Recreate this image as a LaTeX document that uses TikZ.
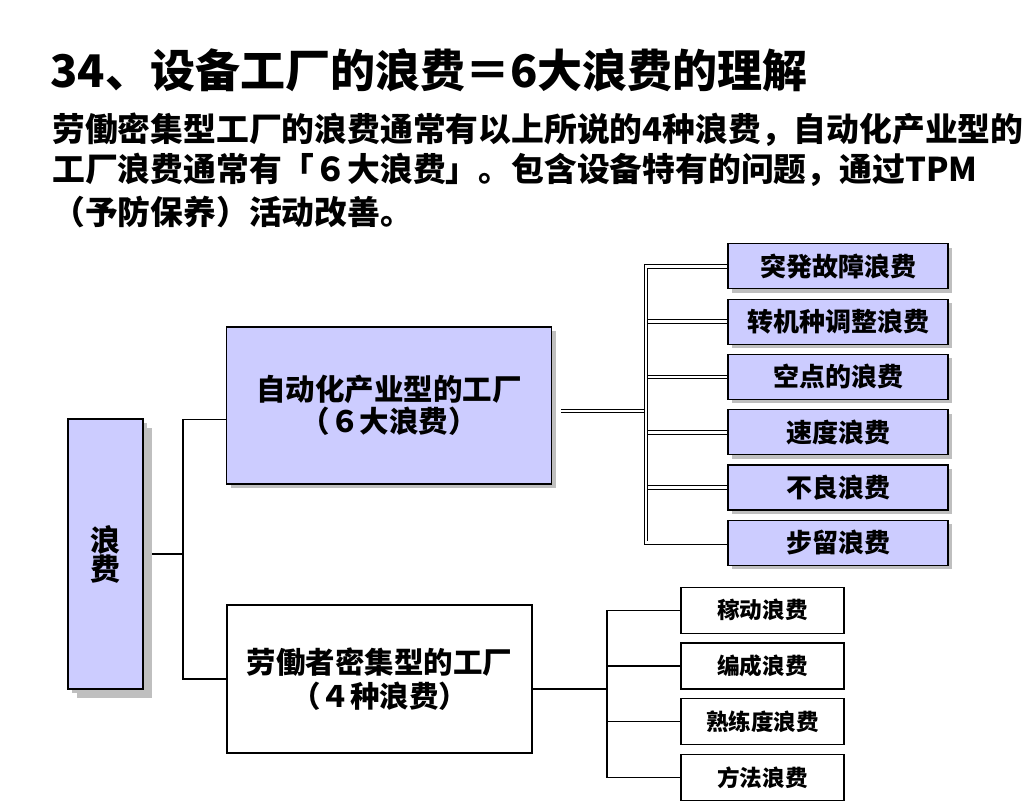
\documentclass[tikz,border=0pt]{standalone}
\usepackage{fontspec}
\setmainfont{Noto Sans CJK SC}
\usepackage{tikz}
\usetikzlibrary{shadows,backgrounds}
\definecolor{lavender}{RGB}{204,204,255}
\tikzset{
  txt/.style={anchor=west,inner sep=0pt,font=\bfseries\fontsize{16.4}{20}\selectfont},
  shade box/.style={draw,fill=lavender,line width=0.6pt,inner sep=0pt,align=center,
    drop shadow={shadow xshift=2pt,shadow yshift=-2pt,fill=black!25,opacity=1}},
  rootbox/.style={shade box,minimum width=37.5pt,minimum height=135pt,
    font=\bfseries\fontsize{15}{14.5}\selectfont,
    drop shadow={shadow xshift=4.5pt,shadow yshift=-4.5pt,fill=black!25,opacity=1}},
  bigbox/.style={shade box,minimum width=162.5pt,minimum height=78.5pt,
    font=\bfseries\fontsize{14.75}{16}\selectfont},
  plainbox/.style={draw,fill=white,line width=0.6pt,inner sep=0pt,align=center,
    minimum width=152.5pt,minimum height=74pt,font=\bfseries\fontsize{14.75}{17}\selectfont},
  sixbox/.style={shade box,minimum width=110pt,minimum height=22.5pt,
    font=\bfseries\fontsize{13}{13}\selectfont},
  fourbox/.style={draw,fill=white,line width=0.6pt,inner sep=0pt,
    minimum width=81.5pt,minimum height=23pt,font=\bfseries\fontsize{11.3}{11.3}\selectfont},
  link/.style={line width=0.6pt},
  dline/.style={double,double distance=1.4pt,line width=0.45pt}
}
\begin{document}
\begin{tikzpicture}[x=0.5pt,y=-0.5pt]
\useasboundingbox (0,0) rectangle (1028,808);
% heading
\node[anchor=west,inner sep=0pt,font=\bfseries\fontsize{22.5}{26}\selectfont] (title) at (50,70) {34、设备工厂的浪费＝6大浪费的理解};
\node[txt] (line1) at (52,130) {劳働密集型工厂的浪费通常有以上所说的4种浪费，自动化产业型的};
\node[txt] (line2) at (52,170) {工厂浪费通常有「６大浪费」。包含设备特有的问题，通过TPM};
\node[txt] (line3) at (52,212) {（予防保养）活动改善。};
% tree
\node[rootbox] (lf) at (105.5,554) {浪\\费};
\node[bigbox] (auto) at (389,405.5) {自动化产业型的工厂\\（６大浪费）};
\node[plainbox] (labor) at (379.5,679) {劳働者密集型的工厂\\（４种浪费）};
\foreach \t [count=\i] in {突発故障浪费,转机种调整浪费,空点的浪费,速度浪费,不良浪费,步留浪费}
  \node[sixbox] (s\i) at (838,211+55.3*\i) {\t};
\foreach \t [count=\i] in {稼动浪费,编成浪费,熟练度浪费,方法浪费}
  \node[fourbox] (m\i) at (762.5,554.5+55.7*\i) {\t};
\coordinate (tk) at (183,554);
\coordinate (uin) at (561,411);
\coordinate (ubus) at (646,411);
\coordinate (lbus) at (607,689);
\begin{scope}[on background layer]
\draw[link] (lf.east) -- (tk);
\draw[link] ([yshift=-7pt]auto.west) -| (tk) |- (labor.west);
\draw[dline] (uin) -- (ubus);
\foreach \i in {2,...,5}
  \draw[dline] (ubus |- s\i.west) -- (s\i.west);
\draw[dline] (s1.west) -- (ubus |- s1.west) -- (ubus |- s6.west) -- (s6.west);
\draw[link] ([yshift=-5pt]labor.east) -- (lbus);
\foreach \i in {2,3}
  \draw[link] (lbus |- m\i.west) -- (m\i.west);
\draw[link] (m1.west) -- (lbus |- m1.west) -- (lbus |- m4.west) -- (m4.west);
\end{scope}
\end{tikzpicture}
\end{document}
